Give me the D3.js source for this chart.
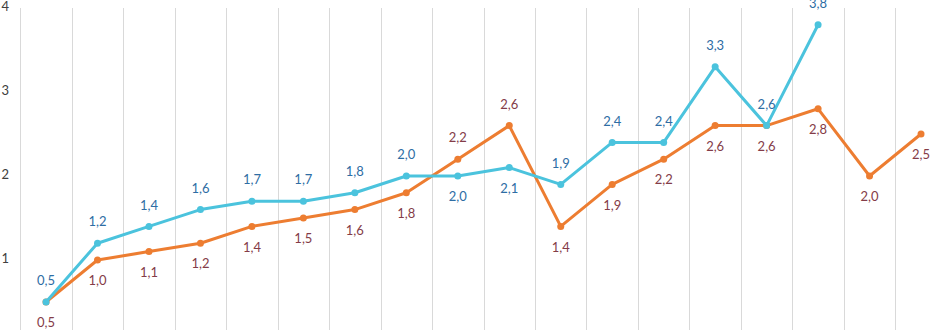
<!DOCTYPE html>
<html>
<head>
<meta charset="utf-8">
<script src="https://cdn.jsdelivr.net/npm/d3@7"></script>
<style>
  body { margin: 0; background: #fff; }
  svg { display: block; font-family: Lato, "Open Sans", sans-serif; }
</style>
</head>
<body>
<div id="chart"></div>
<script>
// chart data
const categories = d3.range(1, 19).map(String);
const blueValues = [0.5, 1.2, 1.4, 1.6, 1.7, 1.7, 1.8, 2.0, 2.0, 2.1, 1.9, 2.4, 2.4, 3.3, 2.6, 3.8];
const orangeValues = [0.5, 1.0, 1.1, 1.2, 1.4, 1.5, 1.6, 1.8, 2.2, 2.6, 1.4, 1.9, 2.2, 2.6, 2.6, 2.8, 2.0, 2.5];
const yTicks = [1, 2, 3, 4];
// which points put their label on the other side
const blueBelow = [8, 9];
const orangeAbove = [8, 9];

const width = 930;
const height = 330;

const svg = d3.select("#chart").append("svg")
    .attr("width", width)
    .attr("height", height);

const step = 51.47;
const x = d3.scaleBand()
    .domain(categories)
    .range([20.3, 20.3 + step * categories.length])
    .padding(0);

const y = d3.scaleLinear()
    .domain([0, 4])
    .range([344, 8]);

const cx = i => x(categories[i]) + x.bandwidth() / 2;

// vertical gridlines
svg.append("g")
    .selectAll("line")
    .data(categories)
    .enter()
    .append("line")
    .attr("x1", d => Math.round(x(d)) + 0.5)
    .attr("x2", d => Math.round(x(d)) + 0.5)
    .attr("y1", y(4))
    .attr("y2", height)
    .attr("stroke", "#d9d9d9")
    .attr("stroke-width", 1);

// y tick labels
svg.append("g")
    .selectAll("text")
    .data(yTicks)
    .enter()
    .append("text")
    .attr("x", 9)
    .attr("y", d => y(d))
    .attr("text-anchor", "end")
    .attr("dominant-baseline", "middle")
    .attr("font-size", 13)
    .attr("fill", "#404040")
    .text(d => d);

const fmt = v => v.toFixed(1).replace(".", ",");

function drawSeries(values, lineColor, labelColor, flipped, below) {
    const line = d3.line()
        .x((d, i) => cx(i))
        .y(d => y(d));

    svg.append("path")
        .datum(values)
        .attr("fill", "none")
        .attr("stroke", lineColor)
        .attr("stroke-width", 3)
        .attr("stroke-linejoin", "round")
        .attr("d", line);

    svg.append("g")
        .selectAll("circle")
        .data(values)
        .enter()
        .append("circle")
        .attr("cx", (d, i) => cx(i))
        .attr("cy", d => y(d))
        .attr("r", 3.5)
        .attr("fill", lineColor);

    svg.append("g")
        .selectAll("text")
        .data(values)
        .enter()
        .append("text")
        .attr("x", (d, i) => cx(i))
        .attr("y", (d, i) => {
            const isBelow = flipped.includes(i) ? !below : below;
            return y(d) + (isBelow ? 22 : -20);
        })
        .attr("text-anchor", "middle")
        .attr("dominant-baseline", "middle")
        .attr("font-size", 13)
        .attr("fill", labelColor)
        .text(d => fmt(d));
}

drawSeries(orangeValues, "#ed7d31", "#843c48", orangeAbove, true);
drawSeries(blueValues, "#4bc3dd", "#2e6da4", blueBelow, false);
</script>
</body>
</html>
